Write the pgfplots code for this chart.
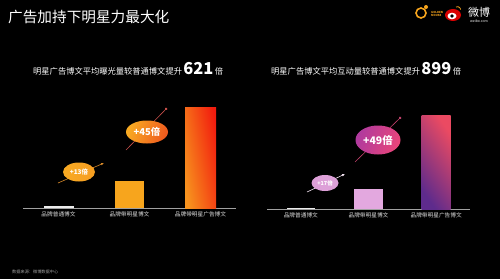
\documentclass[border=0pt]{standalone}
\usepackage{pgfplots}
\pgfplotsset{compat=1.18}
\usepackage{fontspec}
\setmainfont{Noto Sans CJK SC}
\newfontfamily\cjk{Noto Sans CJK SC}
\usetikzlibrary{arrows.meta}
\definecolor{barOrange}{HTML}{F7A51D}
\definecolor{barOrA}{HTML}{F7931E}
\definecolor{barRed}{HTML}{F21C0E}
\definecolor{barPink}{HTML}{E3A8DF}
\definecolor{barPurple}{HTML}{5E2B8C}
\definecolor{barRose}{HTML}{EB4A62}
\definecolor{bubO1}{HTML}{F8AA22}
\definecolor{bubO2}{HTML}{EF5A1E}
\definecolor{bubP1}{HTML}{B03A9E}
\definecolor{bubP2}{HTML}{E8457A}
\definecolor{bubLP}{HTML}{DDA0D8}
\definecolor{lineOr}{HTML}{D98B2A}
\definecolor{lineRed}{HTML}{C8504A}
\definecolor{linePink}{HTML}{C0406A}
\definecolor{axGray}{HTML}{A0A0A0}
\definecolor{lblGray}{HTML}{E0E0E0}
\pgfplotsset{
  catstyle/.style={
    scale only axis, anchor=south west,
    ymin=0, ymax=110, height=110bp,
    xmin=-0.5, xmax=2.5,
    axis x line*=bottom, axis y line=none,
    x axis line style={draw=axGray, line width=0.7pt},
    xtick={0,1,2}, major tick length=0pt,
    xticklabel style={text=lblGray, font=\cjk\fontsize{5.7}{6}\selectfont, yshift=-0.5bp},
    clip=false,
  },
  onebar/.style={ybar, bar shift=0pt, draw=none},
}
\begin{document}
\begin{tikzpicture}[x=1bp,y=1bp]
\fill[black] (0,0) rectangle (500,279);
\useasboundingbox (0,0) rectangle (500,279);

% title
\node[anchor=west, text=white, font=\cjk\fontsize{14.7}{16}\selectfont, inner sep=0pt] at (8,262) {广告加持下明星力最大化};

% subtitles
\node[anchor=base west, text=white, inner sep=0pt] at (33,205) {\cjk\fontsize{8.3}{9}\selectfont 明星广告博文平均曝光量较普通博文提升\,{\bfseries\fontsize{16.5}{18}\selectfont 621}\,倍};
\node[anchor=base west, text=white, inner sep=0pt] at (271,205) {\cjk\fontsize{8.3}{9}\selectfont 明星广告博文平均互动量较普通博文提升\,{\bfseries\fontsize{16.5}{18}\selectfont 899}\,倍};

% left chart
\begin{axis}[catstyle, at={(23bp,71bp)}, width=213bp,
  xticklabels={品牌普通博文,品牌带明星博文,品牌带明星广告博文}]
\addplot[onebar, bar width=30bp, fill=white!92!black] coordinates {(0,2)};
\addplot[onebar, bar width=29bp, fill=barOrange] coordinates {(1,27)};
\addplot[onebar, bar width=31bp, left color=barOrA, right color=barRed, shading angle=100] coordinates {(2,101)};
\end{axis}

% right chart
\begin{axis}[catstyle, at={(267bp,70bp)}, width=203bp,
  xticklabels={品牌普通博文,品牌带明星博文,品牌带明星广告博文}]
\addplot[onebar, bar width=28bp, fill=white!92!black] coordinates {(0,1.5)};
\addplot[onebar, bar width=29bp, fill=barPink] coordinates {(1,20)};
\addplot[onebar, bar width=29bp, left color=barPurple, right color=barRose, shading angle=125] coordinates {(2,94)};
\end{axis}

% left bubbles
\draw[lineOr, line width=0.6pt, -{Latex[length=3bp,width=2.5bp]}] (58,96) -- (104,116);
\shade[left color=bubO1, right color=bubO1!85!bubO2] (79,107) ellipse (16 and 9.5);
\node[text=white, font=\cjk\bfseries\fontsize{6.5}{7}\selectfont] at (79,107) {+13倍};
\draw[lineRed, line width=0.6pt, -{Circle[length=2.5bp]}] (126,129) -- (167,171);
\shade[left color=bubO1, right color=bubO2, shading angle=70] (147,147) ellipse (21 and 11.5);
\node[text=white, font=\cjk\bfseries\fontsize{9.5}{10}\selectfont] at (147,147) {+45倍};

% right bubbles
\draw[white!75!bubLP, line width=0.6pt, -{Latex[length=3bp,width=2.5bp]}] (307,87) -- (345,105);
\fill[bubLP] (325,96) ellipse (13.5 and 8);
\node[text=white, font=\cjk\bfseries\fontsize{5.5}{6}\selectfont] at (325,96) {+17倍};
\draw[linePink, line width=0.6pt, -{Circle[length=2.5bp]}] (355,117) -- (401,162);
\shade[left color=bubP1, right color=bubP2, shading angle=70] (378,139) ellipse (22.5 and 14.5);
\node[text=white, font=\cjk\bfseries\fontsize{10.5}{11}\selectfont] at (378,139) {+49倍};

% logos
\draw[barOrange, line width=1.6pt] (421,266) circle (5);
\fill[barOrange] (426,272) circle (2);
\node[anchor=west, text=barOrange, font=\fontsize{2.8}{3}\selectfont\bfseries, align=left, inner sep=0pt] at (431,265) {GOLDEN\\MOUSE};
\fill[red!85!black] (453,264) ellipse (8 and 6);
\fill[white] (452,263) ellipse (4.5 and 3.3);
\fill[black] (452,263) circle (1.8);
\draw[barOrange, line width=0.8pt] (456,272) arc (120:0:3);
\node[text=white, font=\cjk\fontsize{11}{12}\selectfont, inner sep=0pt] at (479,267) {微博};
\node[text=white, font=\fontsize{3.5}{4}\selectfont, inner sep=0pt] at (479,258) {weibo.com};

% source
\node[anchor=west, text=axGray, font=\cjk\fontsize{4.2}{5}\selectfont, inner sep=0pt] at (12,7) {数据来源：微博数据中心};
\end{tikzpicture}
\end{document}
